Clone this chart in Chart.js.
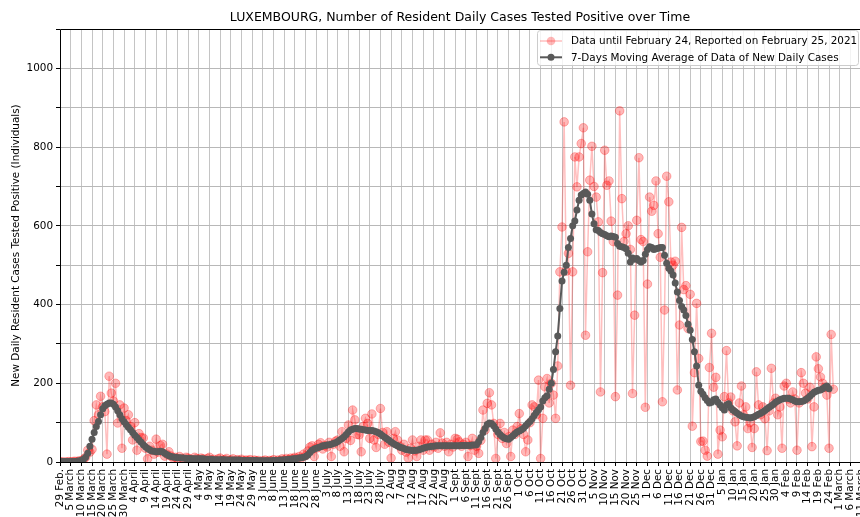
<!DOCTYPE html>
<html lang="en">
<head>
<meta charset="UTF-8">
<title>Luxembourg - Resident Daily Cases Tested Positive</title>
<script src="https://cdn.jsdelivr.net/npm/chart.js"></script>
<style>
  html, body { margin: 0; padding: 0; background: #fff; overflow: hidden; }
  #wrap { width: 860px; height: 517px; }
</style>
</head>
<body>
<div id="wrap"><canvas id="chart" width="860" height="517"></canvas></div>
<script>
// one label every 5 entries, starting at 29 Feb 2020
const tickLabels = [
  '29 Feb.', '5 March', '10 March', '15 March', '20 March', '25 March', '30 March',
  '4 April', '9 April', '14 April', '19 April', '24 April', '29 April',
  '4 May', '9 May', '14 May', '19 May', '24 May', '29 May',
  '3 June', '8 June', '13 June', '18 June', '23 June', '28 June',
  '3 July', '8 July', '13 July', '18 July', '23 July', '28 July',
  '2 Aug', '7 Aug', '12 Aug', '17 Aug', '22 Aug', '27 Aug',
  '1 Sept', '6 Sept', '11 Sept', '16 Sept', '21 Sept', '26 Sept',
  '1 Oct', '6 Oct', '11 Oct', '16 Oct', '21 Oct', '26 Oct', '31 Oct',
  '5 Nov', '10 Nov', '15 Nov', '20 Nov', '25 Nov',
  '1 Dec', '6 Dec', '11 Dec', '16 Dec', '21 Dec', '26 Dec', '31 Dec',
  '5 Jan', '10 Jan', '15 Jan', '20 Jan', '25 Jan', '30 Jan',
  '4 Feb', '9 Feb', '14 Feb', '19 Feb', '24 Feb',
  '1 March', '6 March', '11 March'
];

// new daily cases (one value per day)
const dailyCases = [
  1, 0, 0, 0, 1, 0, 1, 2, 1, 3,
  2, 7, 12, 30, 25, 32, 105, 145, 120, 167,
  140, 128, 20, 218, 175, 155, 200, 99, 145, 35,
  137, 105, 120, 90, 56, 100, 30, 72, 62, 61,
  35, 8, 40, 30, 20, 58, 25, 42, 45, 15,
  20, 26, 15, 10, 12, 8, 14, 9, 6, 12,
  10, 7, 5, 12, 9, 6, 10, 8, 4, 9,
  12, 5, 7, 3, 8, 10, 4, 6, 9, 3,
  5, 8, 2, 6, 4, 7, 3, 5, 4, 6,
  2, 5, 3, 4, 1, 3, 5, 2, 4, 3,
  6, 2, 5, 4, 8, 5, 9, 6, 10, 8,
  12, 9, 14, 10, 20, 16, 28, 38, 41, 14,
  35, 45, 49, 33, 42, 38, 50, 14, 45, 53,
  56, 40, 77, 26, 60, 94, 55, 132, 107, 70,
  69, 26, 90, 111, 98, 60, 122, 56, 37, 70,
  136, 75, 45, 77, 50, 10, 60, 77, 56, 40,
  30, 45, 25, 10, 35, 56, 28, 14, 40, 56,
  30, 56, 56, 30, 45, 38, 50, 35, 74, 48,
  40, 50, 26, 45, 38, 60, 58, 51, 40, 45,
  50, 14, 42, 60, 30, 40, 22, 55, 132, 81,
  149, 176, 145, 98, 9, 70, 98, 60, 75, 47,
  64, 14, 81, 70, 90, 123, 85, 70, 26, 56,
  100, 145, 140, 120, 208, 9, 111, 191, 212, 150,
  200, 170, 111, 244, 483, 597, 864, 485, 530, 195,
  483, 775, 699, 775, 809, 849, 322, 534, 716, 802,
  700, 673, 610, 178, 481, 792, 703, 714, 612, 560,
  166, 424, 892, 669, 560, 580, 600, 540, 174, 373,
  614, 773, 565, 560, 139, 452, 673, 637, 652, 714,
  580, 520, 153, 386, 726, 661, 508, 500, 510, 183,
  348, 596, 438, 448, 339, 426, 91, 227, 403, 263,
  52, 53, 30, 15, 240, 327, 190, 215, 20, 81,
  64, 166, 283, 150, 165, 130, 102, 41, 150, 193,
  120, 140, 85, 100, 37, 85, 229, 145, 120, 140,
  110, 29, 130, 238, 150, 162, 120, 140, 35, 193,
  200, 160, 150, 178, 160, 30, 150, 227, 200, 175,
  160, 190, 39, 140, 267, 237, 216, 200, 190, 170,
  35, 324, 185
];

// 7-day moving average
const movingAverage = [
  1, 1, 1, 1, 1, 1, 1, 1, 2, 3,
  4, 7, 12, 22, 40, 58, 75, 90, 103, 120,
  135, 143, 147, 150, 150, 147, 140, 130, 120, 110,
  102, 95, 88, 82, 75, 68, 62, 56, 50, 44,
  39, 34, 31, 28, 27, 26, 26, 27, 26, 22,
  19, 16, 14, 13, 12, 11, 11, 10, 10, 9,
  9, 9, 8, 8, 8, 8, 8, 8, 7, 7,
  7, 7, 6, 6, 6, 6, 6, 6, 5, 5,
  5, 5, 5, 5, 5, 4, 4, 4, 4, 4,
  4, 4, 4, 3, 3, 3, 3, 3, 3, 3,
  4, 4, 4, 5, 5, 6, 6, 7, 7, 8,
  8, 9, 10, 11, 12, 14, 18, 24, 30, 33,
  35, 37, 39, 41, 42, 43, 44, 45, 47, 49,
  52, 56, 60, 64, 70, 76, 81, 83, 85, 85,
  84, 83, 82, 81, 80, 80, 80, 79, 77, 74,
  71, 67, 63, 59, 55, 51, 47, 44, 41, 38,
  36, 34, 32, 31, 30, 29, 29, 30, 31, 33,
  35, 37, 38, 39, 40, 40, 41, 41, 41, 41,
  41, 41, 41, 41, 41, 41, 41, 41, 42, 42,
  42, 42, 42, 43, 43, 44, 52, 62, 75, 85,
  95, 99, 98, 92, 84, 76, 70, 65, 61, 59,
  58, 62, 67, 72, 76, 79, 82, 86, 92, 98,
  103, 110, 118, 126, 133, 140, 155, 163, 168, 185,
  200, 235, 280, 320, 390, 460, 482, 500, 545, 568,
  600, 612, 640, 665, 678, 682, 686, 680, 665, 630,
  605, 590, 588, 583, 580, 578, 575, 572, 574, 573,
  571, 555, 548, 547, 545, 542, 530, 508, 518, 515,
  517, 512, 508, 512, 528, 540, 547, 545, 540, 542,
  543, 545, 545, 525, 505, 492, 485, 475, 455, 432,
  410, 395, 386, 372, 350, 335, 311, 280, 244, 195,
  180, 172, 163, 156, 150, 152, 158, 160, 152, 145,
  138, 132, 145, 148, 138, 132, 128, 124, 120, 117,
  115, 114, 113, 112, 113, 115, 118, 121, 124, 127,
  131, 135, 139, 143, 147, 152, 155, 158, 160, 162,
  162, 162, 160, 158, 155, 153, 153, 154, 155, 158,
  162, 167, 172, 177, 180, 182, 183, 186, 190, 193,
  186
];

const seriesNames = [
  'Data until February 24, Reported on February 25, 2021',
  '7-Days Moving Average of Data of New Daily Cases'
];

const RED_LINE = 'rgba(255, 0, 0, 0.25)';
const RED_DOT = 'rgba(255, 0, 0, 0.28)';
const GREY = '#595959';
const FONT = 'DejaVu Sans';

Chart.defaults.color = '#000';
Chart.defaults.font.family = FONT;
Chart.defaults.font.size = 10.4;

// spines and the legend box, drawn over the data like matplotlib does
const framePlugin = {
  id: 'frame',
  afterDraw(chart) {
    const { ctx, chartArea: a } = chart;
    ctx.save();
    ctx.strokeStyle = '#000';
    ctx.lineWidth = 1;
    ctx.beginPath();
    ctx.moveTo(a.left + 0.5, a.bottom);
    ctx.lineTo(a.left + 0.5, a.top + 0.5);
    ctx.lineTo(a.right, a.top + 0.5);
    ctx.moveTo(a.left, a.bottom + 0.5);
    ctx.lineTo(a.right, a.bottom + 0.5);
    ctx.stroke();

    // legend
    const bx = 537, by = 30, bw = 321, bh = 35;
    ctx.fillStyle = 'rgba(255,255,255,0.8)';
    ctx.strokeStyle = '#cccccc';
    ctx.beginPath();
    ctx.roundRect(bx + 0.5, by + 0.5, bw, bh, 3);
    ctx.fill();
    ctx.stroke();

    const rows = [
      { text: seriesNames[0], line: RED_LINE, dot: RED_DOT, r: 4.3, lw: 1.5 },
      { text: seriesNames[1], line: GREY, dot: GREY, r: 3.5, lw: 2 }
    ];
    ctx.font = '10.4px "' + FONT + '"';
    ctx.textBaseline = 'middle';
    rows.forEach((row, i) => {
      const y = 41 + i * 16.3;
      ctx.strokeStyle = row.line;
      ctx.lineWidth = row.lw;
      ctx.beginPath();
      ctx.moveTo(540, y);
      ctx.lineTo(562, y);
      ctx.stroke();
      ctx.fillStyle = row.dot;
      ctx.beginPath();
      ctx.arc(551, y, row.r, 0, Math.PI * 2);
      ctx.fill();
      ctx.fillStyle = '#000';
      ctx.fillText(row.text, 571, y + 0.5);
    });
    ctx.restore();
  }
};

new Chart(document.getElementById('chart'), {
  type: 'line',
  data: {
    datasets: [
      {
        label: seriesNames[0],
        data: dailyCases.map((v, i) => ({ x: i, y: v })),
        borderColor: RED_LINE,
        borderWidth: 1.5,
        pointBackgroundColor: RED_DOT,
        pointBorderColor: RED_DOT,
        pointBorderWidth: 1,
        pointRadius: 4.3,
        tension: 0,
        clip: 0,
        order: 2
      },
      {
        label: seriesNames[1],
        data: movingAverage.map((v, i) => ({ x: i, y: v })),
        borderColor: GREY,
        borderWidth: 2,
        pointBackgroundColor: GREY,
        pointBorderWidth: 0,
        pointRadius: 3.5,
        tension: 0,
        clip: 0,
        order: 1
      }
    ]
  },
  options: {
    responsive: false,
    animation: false,
    events: [],
    layout: { padding: 0, autoPadding: false },
    plugins: {
      legend: { display: false },
      tooltip: { enabled: false },
      title: {
        display: true,
        fullSize: false,
        text: 'LUXEMBOURG, Number of Resident Daily Cases Tested Positive over Time',
        font: { size: 12.5, weight: 'normal' },
        padding: { top: 10, bottom: 4 }
      }
    },
    scales: {
      x: {
        type: 'linear',
        min: 0,
        max: 374.5,
        afterBuildTicks(scale) {
          // a tick every 5 entries, the last one sits just past the right edge
          scale.ticks = tickLabels.map((_, k) => ({ value: k * 5 }));
        },
        afterFit(scale) {
          scale.height = 55;
          scale.paddingLeft = 0;
          scale.paddingRight = 0;
        },
        ticks: {
          autoSkip: false,
          maxRotation: 90,
          minRotation: 90,
          padding: 3,
          callback: v => tickLabels[Math.round(v / 5)]
        },
        grid: { color: '#c4c4c4', lineWidth: 1, tickColor: '#000', tickLength: 4 },
        border: { display: false }
      },
      y: {
        min: 0,
        max: 1100,
        afterFit(scale) {
          scale.width = 60;
        },
        ticks: {
          stepSize: 100,
          padding: 3,
          callback: v => (v % 200 === 0 ? v : '')
        },
        grid: { color: '#b8b8b8', lineWidth: 1, tickColor: '#000', tickLength: 4 },
        border: { display: false },
        title: {
          display: true,
          text: 'New Daily Resident Cases Tested Positive (Individuals)',
          padding: { top: 10.5, bottom: 0 }
        }
      }
    }
  },
  plugins: [framePlugin]
});
</script>
</body>
</html>
